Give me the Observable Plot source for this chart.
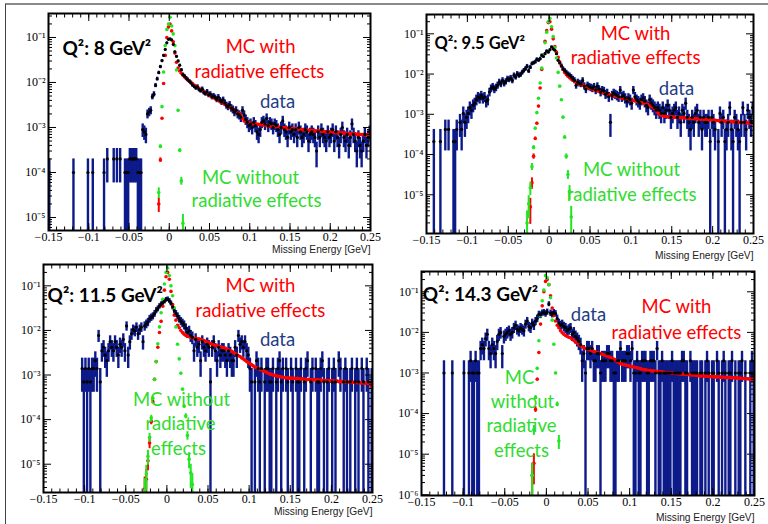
<!DOCTYPE html>
<html><head><meta charset="utf-8">
<script src="https://cdn.jsdelivr.net/npm/d3@7"></script>
<script src="https://cdn.jsdelivr.net/npm/@observablehq/plot@0.6"></script>
<style>
body{margin:0;background:#fff;}
#wrap{position:relative;width:768px;height:524px;overflow:hidden;background:#fff;}
#wrap svg{position:absolute;}
#border{position:absolute;left:5px;top:3px;width:770px;height:530px;border-top:2px solid #8a8a8a;border-left:1.5px solid #444;pointer-events:none;z-index:5;}
</style></head>
<body><div id="wrap"><div id="border"></div></div>
<script>
// ---------- histogram binning (Missing Energy, GeV) ----------
const X_MIN = -0.15, BIN = 0.002;          // 200 bins from -0.15 to 0.25
const MC_SCALE = 1e-5;                     // MC arrays are stored in units of 1e-5

// ---------- Q2 = 8 GeV2 ----------
const p1Counts = [1,0,0,0,0,0,0,0,0,0, 0,0,0,0,0,1,0,0,0,0, 0,0,0,0,1,0,0,1,0,0, 0,0,0,0,1,0,2,0,0,0,
 2,0,2,0,2,0,0,1,1,1, 2,2,2,2,2,1,1,1,9,8, 7,20,22,24,48,55,86,120,165,225, 305,400,540,760,910,930,880,700,480,380,
 300,240,190,150,138,125,115,106,98,88, 82,76,80,70,66,71,60,57,62,53, 55,48,50,46,42,47,40,37,41,35, 31,29,32,27,25,22,24,20,19,17,
 24,19,15,13,11,12,10,13,11,8, 7,9,13,14,12,16,11,13,12,10, 12,11,9,7,10,14,9,8,6,10, 8,9,7,9,6,10,8,6,7,9,
 8,5,7,8,7,6,3,8,6,9, 7,6,5,8,6,7,9,5,8,6, 4,7,10,6,5,7,4,6,12,7, 5,3,6,4,3,5,7,4,6,8];
const p1RadStart = 68;
const p1Rad = [2,19,160,950,4000,10000,17000,20000,14000,8000, 4500,2800,2100,1800,1600,1450,1320,1220,1140,1060,
 990,930,870,820,780,730,690,660,620,590, 560,530,510,480,460,440,420,400,380,360, 350,330,310,300,280,270,250,240,230,210,
 200,190,160,140,135,130,128,125,123,120, 119,118,117,116,114,115,112,110,111,108, 107,106,104,105,102,101,100,99,100,97,
 96,96,94,95,93,92,92,90,91,89, 88,89,87,86,87,85,85,84,83,84, 82,82,81,80,81,79,79,78,79,77, 77,76,77,75,75,74,75,73,73,72,
 73,71,72,70,71,70,69,70,68,69,68,67];
const p1NoRadStart = 68;
const p1NoRad = [3.6,38,290,1700,6600,15000,20000,28000,18000,12000,6600,1900,240,31,6.5,0.74];

// ---------- Q2 = 9.5 GeV2 ----------
const p2Counts = [0,0,0,0,1,0,0,0,1,0, 0,2,0,2,0,0,1,1,2,0, 3,2,5,3,4,5,7,6,8,9, 11,13,12,14,12,13,10,11,17,21,
 23,20,22,25,30,27,33,28,31,36, 35,38,33,44,40,48,44,46,52,58, 64,74,57,70,86,90,95,110,105,114, 138,130,152,176,167,190,224,200,186,152,
 105,90,76,64,58,52,47,44,40,36, 33,25,30,28,27,33,24,20,25,23, 22,21,23,19,24,20,17,19,18,15, 16,13,3,14,16,15,14,13,19,13,
 14,12,10,12,11,9,19,13,11,10, 9,11,12,10,8,7,11,9,8,7, 6,7,6,5,7,5,6,8,6,4, 5,6,7,4,5,3,6,5,9,4,
 3,2,4,3,5,6,3,4,2,4, 3,3,4,1,4,3,2,0,1,5, 3,4,1,2,3,7,2,1,4,3, 2,1,3,7,3,2,6,4,3,7];
const p2RadStart = 63;
const p2Rad = [0.5,2,9,25,60,160,450,1300,3000,6500, 12000,19000,20000,13000,7500,4800,3500,2600,2000,1600,
 1300,1100,970,880,810,750,700,660,630,600, 570,550,530,510,490,470,450,440,420,410, 390,380,370,360,350,340,330,320,310,305,
 295,290,280,275,270,260,255,250,245,240, 235,230,225,220,215,210,205,200,195,190, 185,180,175,170,160,150,135,120,110,100,
 95,92,90,88,87,86,85,85,84,84, 83,83,82,82,81,81,80,80,79,79, 78,78,77,77,76,76,75,75,74,73, 73,72,71,71,70,69,69,68,68,67,
 67,66,66,65,65,64,64,63,63,63, 62,62,62,61,61,60,62];
const p2NoRadStart = 61;
const p2NoRad = [0.2,0.6,1.5,5,15,45,110,250,600,1400, 3000,6000,11000,20000,24000,15000,8500,4500,2500,1100, 500,230,85,27,9,3.2,1.2,0.28];

// ---------- Q2 = 11.5 GeV2 ----------
const p3Counts = [0,0,0,0,0,0,0,0,0,0, 0,0,0,0,0,0,0,0,0,0, 0,0,0,2,1,2,1,2,1,2, 2,3,2,11,1,5,6,4,3,5,
 8,6,5,8,6,4,7,6,9,5, 18,4,8,12,15,14,17,12,15,17, 8,18,20,22,26,28,30,34,40,44, 50,55,60,64,70,72,66,58,48,40,
 34,30,26,23,21,19,16,13,14,11, 10,5,9,6,7,3,8,6,5,7, 6,1,6,8,5,3,6,4,5,5, 4,3,5,4,3,3,6,4,11,7,
 8,6,8,5,4,2,1,0,1,3, 2,1,2,0,1,2,2,1,1,2, 0,1,2,3,1,2,0,2,1,0, 2,1,0,2,1,1,2,0,1,2,
 3,0,1,2,0,2,1,1,2,3, 1,0,1,2,0,1,2,1,0,3, 2,0,1,2,1,0,1,2,0,1, 2,1,0,2,1,0,2,1,0,1];
const p3RadStart = 61;
const p3Rad = [0.28,0.46,1.2,3,9,25,80,200,420,900, 1600,3500,8000,16000,20000,14000,7500,3800,2200,1700,
 1300,1150,1000,900,820,770,740,720,700,690, 670,660,650,640,630,610,590,570,550,530, 510,490,475,460,450,440,430,420,410,400,
 380,370,350,340,320,300,290,270,260,240, 230,215,200,190,180,170,160,150,145,140, 135,130,125,120,115,110,106,103,100,98,
 96,94,92,90,89,88,87,86,85,85, 84,84,83,84,82,81,82,80,80,79, 80,78,78,79,77,78,76,77,75,76, 75,74,75,73,74,73,72,73,71,72,
 71,70,71,69,70,69,68,69,67,68, 67,66,67,66,65,66,64,65,55];
const p3NoRadStart = 61;
const p3NoRad = [0.25,0.6,1.5,4,11,30,80,200,500,1200, 2500,5000,11000,20000,25000,17000,10000,6000,3200,1200, 490,230,110,48,20,12,4.4,1.3,0.64,0.35];

// ---------- Q2 = 14.3 GeV2 ----------
const p4Counts = [0,0,0,0,0,0,0,0,0,0, 0,0,0,1,0,0,0,0,1,0, 0,0,0,0,0,1,0,0,1,2, 1,1,2,1,1,4,5,4,7,9,
 4,3,5,4,3,6,9,10,3,8, 9,10,11,9,10,13,15,12,11,13, 12,11,16,19,14,13,17,15,19,22, 28,27,30,31,29,32,50,30,28,31,
 29,22,17,15,16,14,13,11,12,13, 9,10,8,7,6,5,2,3,1,4, 4,3,4,2,2,3,3,1,2,2, 2,3,3,2,2,1,1,2,2,4,
 2,2,2,3,3,2,4,1,1,2, 1,1,2,2,2,1,1,2,2,2, 1,4,1,1,2,1,1,1,1,1, 2,1,1,1,1,1,2,2,1,1,
 0,2,1,1,1,1,0,1,1,0, 1,2,1,0,1,1,0,2,1,0, 1,2,1,0,1,1,2,0,1,0, 1,1,2,0,1,0,0,1,2,1];
const p4RadStart = 66;
const p4Rad = [0.3,0.6,12.6,70,320,1600,4500,10000,18000,20000, 15000,8000,4000,2600,1900,1500,1300,1100,980,900,
 840,790,760,740,680,630,580,540,500,470, 450,420,400,390,380,370,350,340,330,320, 310,300,290,280,270,260,250,240,230,220,
 210,190,180,170,165,160,157,153,150,146, 143,140,137,134,131,128,123,121,119,117, 115,114,112,111,110,109,107,106,105,104,
 103,102,101,100,99,98,97,96,96,95, 94,93,92,92,91,90,89,89,88,87, 86,84,84,83,83,82,82,81,81,80, 80,80,79,79,78,78,77,77,77,76,
 76,76,75,75,74,74,73,73,72,72, 71,70,70,72];
const p4NoRadStart = 66;
const p4NoRad = [0.3,4,25,130,620,2600,6000,11000,25000,22000,15000,7200,2000,510,100,17,2.1];

// ---------- text labels ----------
const p1Notes = [
  {kind:"q", text:"Q²: 8 GeV²", x:-0.1326, y:0.057},
  {kind:"rad", text:"MC with", x:0.1134, y:0.060},
  {kind:"rad", text:"radiative effects", x:0.1121, y:0.0167},
  {kind:"data", text:"data", x:0.1345, y:3.6e-3},
  {kind:"norad", text:"MC without", x:0.101, y:7.4e-5},
  {kind:"norad", text:"radiative effects", x:0.1084, y:2.27e-5}];
const p2Notes = [
  {kind:"q", text:"Q²: 9.5 GeV²", x:-0.1402, y:0.0574},
  {kind:"rad", text:"MC with", x:0.1057, y:0.1},
  {kind:"rad", text:"radiative effects", x:0.1057, y:0.0243},
  {kind:"data", text:"data", x:0.1558, y:4.13e-3},
  {kind:"norad", text:"MC without", x:0.1008, y:4.0e-5},
  {kind:"norad", text:"radiative effects", x:0.1008, y:9.6e-6}];
const p3Notes = [
  {kind:"q", text:"Q²: 11.5 GeV²", x:-0.1451, y:0.0607},
  {kind:"rad", text:"MC with", x:0.1138, y:0.1},
  {kind:"rad", text:"radiative effects", x:0.1138, y:0.0265},
  {kind:"data", text:"data", x:0.1345, y:5.94e-3},
  {kind:"norad", text:"MC without", x:0.0178, y:2.68e-4},
  {kind:"norad", text:"radiative", x:0.0166, y:7.76e-5},
  {kind:"norad", text:"effects", x:0.0141, y:2.14e-5}];
const p4Notes = [
  {kind:"q", text:"Q²: 14.3 GeV²", x:-0.1484, y:0.0859},
  {kind:"data", text:"data", x:0.0506, y:0.026},
  {kind:"rad", text:"MC with", x:0.1563, y:0.041},
  {kind:"rad", text:"radiative effects", x:0.1563, y:9.4e-3},
  {kind:"norad", text:"MC", x:-0.0323, y:7.7e-4},
  {kind:"norad", text:"without", x:-0.0287, y:1.87e-4},
  {kind:"norad", text:"radiative", x:-0.0299, y:4.8e-5},
  {kind:"norad", text:"effects", x:-0.0299, y:1.17e-5}];

const xTickValues = [-0.15,-0.1,-0.05,0,0.05,0.1,0.15,0.2,0.25];
const xLabel = "Missing Energy [GeV]";

// ---------- styles & layout ----------
const NAVY = "#0d1a8a", RED = "#ff0000", GREEN = "#22e622", DATA_TXT = "#1f3d85", GREEN_TXT = "#2fdc2f";
const NOTE_FONT = "Lato, 'Open Sans', sans-serif";
const panels = [
  {left:0,   top:0,   w:384, h:262, mt:13, mr:14, mb:32, ml:48, yDomain:[5.14e-6,0.341], labDy:19.5, tickPad:9, qSize:19,
   counts:p1Counts, unit:1e-4, radStart:p1RadStart, rad:p1Rad, noRadStart:p1NoRadStart, noRad:p1NoRad, mcUnit:2.5e-6, notes:p1Notes},
  {left:384, top:0,   w:384, h:262, mt:14, mr:15, mb:29, ml:42, yDomain:[1.09e-6,0.302], labDy:22, tickPad:8.8, qSize:16.5,
   counts:p2Counts, unit:2.1e-4, radStart:p2RadStart, rad:p2Rad, noRadStart:p2NoRadStart, noRad:p2NoRad, mcUnit:2e-6, notes:p2Notes},
  {left:0,   top:262, w:384, h:262, mt:2,  mr:12, mb:32, ml:43, yDomain:[2.32e-6,0.301], labDy:19.5, tickPad:9, qSize:19,
   counts:p3Counts, unit:7e-4, radStart:p3RadStart, rad:p3Rad, noRadStart:p3NoRadStart, noRad:p3NoRad, mcUnit:2e-6, notes:p3Notes},
  {left:384, top:262, w:384, h:262, mt:9,  mr:14, mb:29, ml:37, yDomain:[9.6e-7,0.316], labDy:22, tickPad:8.8, qSize:19,
   counts:p4Counts, unit:1e-3, radStart:p4RadStart, rad:p4Rad, noRadStart:p4NoRadStart, noRad:p4NoRad, mcUnit:3e-6, notes:p4Notes}
];

const binCenter = i => X_MIN + BIN * (i + 0.5);
const SUP = {"-":"⁻","0":"⁰","1":"¹","2":"²","3":"³","4":"⁴","5":"⁵","6":"⁶","7":"⁷","8":"⁸","9":"⁹"};
const fmtY = d => "10" + String(Math.round(Math.log10(d))).split("").map(c => SUP[c]).join("");
const fmtX = d => d === 0 ? "0" : d3.format(".2~f")(d).replace("-", "−");

function dataRows(counts, unit, floor) {
  const rows = [];
  counts.forEach((c, i) => {
    if (c > 0) {
      const v = c * unit, e = Math.sqrt(c) * unit;
      rows.push({x: binCenter(i), y: v, lo: v - e > 0 ? v - e : floor, hi: v + e});
    }
  });
  return rows;
}
function mcRows(start, vals, mcUnit, floor) {
  return vals.map((s, k) => {
    const v = s * MC_SCALE, e = Math.sqrt(v * mcUnit);
    return {x: binCenter(start + k), y: v, lo: v - e > 0 ? v - e : floor, hi: v + e};
  });
}

const wrap = document.getElementById("wrap");
for (const p of panels) {
  const [y0, y1] = p.yDomain;
  const floor = y0 * 0.3;
  const data = dataRows(p.counts, p.unit, floor);
  const rad = mcRows(p.radStart, p.rad, p.mcUnit, floor);
  const noRad = mcRows(p.noRadStart, p.noRad, p.mcUnit, floor);
  const e0 = Math.floor(Math.log10(y0)), e1 = Math.ceil(Math.log10(y1));
  const yMajor = d3.range(e0, e1 + 1).map(e => Math.pow(10, e)).filter(v => v >= y0 && v <= y1);
  const yMinor = [];
  for (let e = e0; e <= e1; e++) for (let m = 2; m <= 9; m++) { const v = m * Math.pow(10, e); if (v >= y0 && v <= y1) yMinor.push(v); }
  const xMinor = d3.range(-15, 26).map(k => k / 100);

  const noteMarks = p.notes.map(n => {
    const st = n.kind === "q" ? {fill:"black", fontWeight:"bold", fontSize:p.qSize, textAnchor:"start"}
      : n.kind === "rad" ? {fill:RED, fontSize:18.5}
      : n.kind === "norad" ? {fill:GREEN_TXT, fontSize:18.5}
      : {fill:DATA_TXT, fontSize:18.5};
    return Plot.text([n], {x:"x", y:"y", text:"text", fontFamily:NOTE_FONT, ...st});
  });

  const svg = Plot.plot({
    width: p.w, height: p.h,
    marginTop: p.mt, marginRight: p.mr, marginBottom: p.mb, marginLeft: p.ml,
    style: {fontFamily: "'Liberation Serif', 'Times New Roman', serif", fontSize: "12px", background: "white", overflow: "hidden"},
    x: {domain: [-0.15, 0.25]},
    y: {type: "log", domain: [y0, y1]},
    marks: [
      Plot.ruleX(data, {x:"x", y1:"lo", y2:"hi", stroke:NAVY, strokeWidth:2.4, clip:true}),
      Plot.ruleX(rad, {x:"x", y1:"lo", y2:"hi", stroke:RED, strokeWidth:2, clip:true}),
      Plot.dot(rad, {x:"x", y:"y", r:1.8, fill:RED, clip:true}),
      Plot.ruleX(noRad, {x:"x", y1:"lo", y2:"hi", stroke:GREEN, strokeWidth:2, clip:true}),
      Plot.dot(noRad, {x:"x", y:"y", r:1.8, fill:GREEN, clip:true}),
      Plot.dot(data, {x:"x", y:"y", r:1.6, fill:"black", clip:true}),
      Plot.axisX(xTickValues, {anchor:"bottom", tickSize:-7, tickPadding:p.tickPad, tickFormat:fmtX, label:null, fontSize:12}),
      Plot.axisX(xMinor, {anchor:"bottom", tickSize:-3.5, tickFormat:() => "", label:null}),
      Plot.axisX(xTickValues, {anchor:"top", tickSize:-7, tickFormat:() => "", label:null}),
      Plot.axisX(xMinor, {anchor:"top", tickSize:-3.5, tickFormat:() => "", label:null}),
      Plot.axisY(yMajor, {anchor:"left", tickSize:-8, tickPadding:11, tickFormat:fmtY, label:null, fontSize:12}),
      Plot.axisY(yMinor, {anchor:"left", tickSize:-4, tickFormat:() => "", label:null}),
      Plot.axisY(yMajor, {anchor:"right", tickSize:-8, tickFormat:() => "", label:null}),
      Plot.axisY(yMinor, {anchor:"right", tickSize:-4, tickFormat:() => "", label:null}),
      Plot.frame({stroke:"black", strokeWidth:2}),
      Plot.text([xLabel], {frameAnchor:"bottom-right", text:d => d, dy:p.labDy, textAnchor:"end", lineAnchor:"middle",
        fontFamily:"'Liberation Sans', Arial, sans-serif", fontSize:10.2, fill:"#222"}),
      ...noteMarks
    ]
  });
  svg.style.left = p.left + "px";
  svg.style.top = p.top + "px";
  wrap.appendChild(svg);
}
</script>
</body></html>
